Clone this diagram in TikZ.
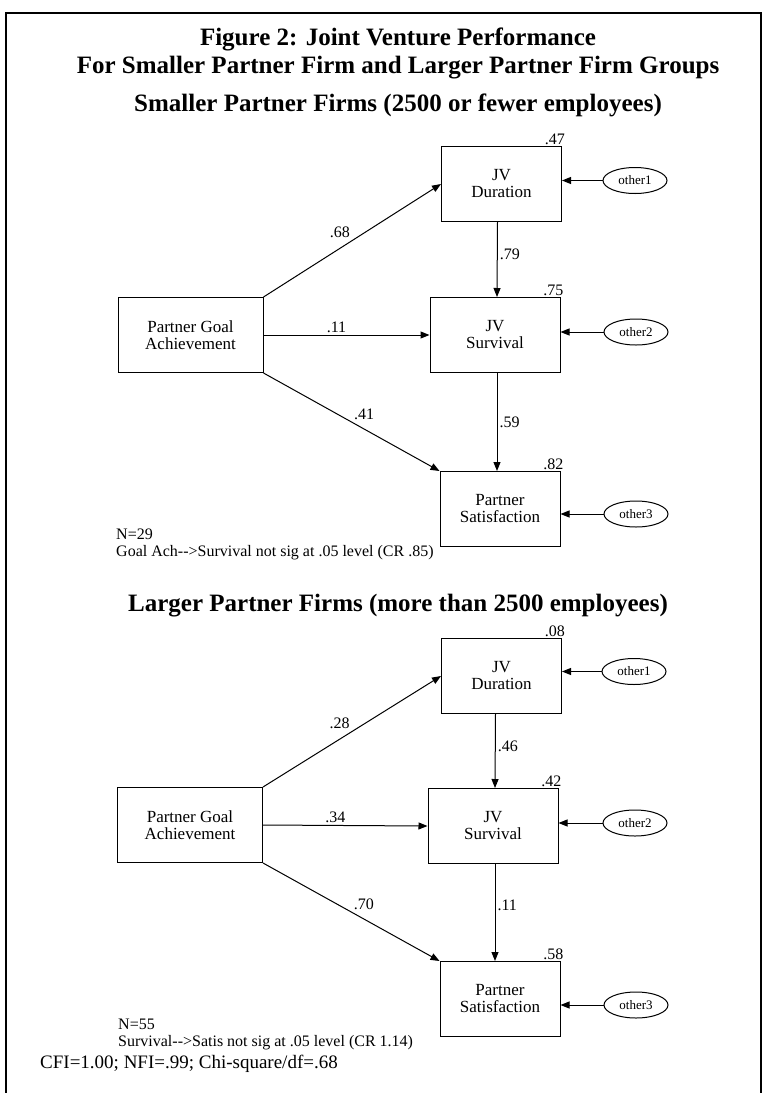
\documentclass[tikz,border=0pt]{standalone}
\usepackage{fontspec}
\setmainfont{Liberation Serif}
\usetikzlibrary{positioning,shapes.geometric,arrows.meta}

\tikzset{
  var/.style={draw, line width=1pt, minimum width=120pt, minimum height=75pt,
    align=center, inner sep=0pt, font=\fontsize{17}{17}\selectfont},
  other/.style={draw, ellipse, line width=1pt, minimum width=64pt, minimum height=26pt,
    inner sep=0pt, font=\fontsize{13}{13}\selectfont},
  coef/.style={font=\fontsize{16}{16}\selectfont, inner sep=2pt},
  rsq/.style={anchor=south east, inner sep=1pt, xshift=4pt, font=\fontsize{16}{16}\selectfont},
  head/.style={font=\fontsize{25}{25}\selectfont\bfseries},
  note/.style={align=left, inner sep=0pt, font=\fontsize{16}{17}\selectfont},
  path/.style={->, line width=1pt, >={Triangle[length=9pt,width=7pt]}}
}

\begin{document}
\begin{tikzpicture}[x=1pt,y=-1pt]
      \useasboundingbox (0,0) rectangle (767,1093);
      \draw[line width=2.5pt] (6,1093) -- (6,13) -- (761,13) -- (761,1093);

      \node[head] (title) at (398,39) {Figure 2: Joint Venture Performance};
      \node[head] (title2) at (398,68) {For Smaller Partner Firm and Larger Partner Firm Groups};

      % smaller partner firms
      \node[head] (small) at (398,105) {Smaller Partner Firms (2500 or fewer employees)};
      \node[var,minimum width=145pt] (goal1) at (190.5,335) {Partner Goal\\Achievement};
      \node[var] (dur1) at (501.5,184) {JV\\Duration};
      \node[var,minimum width=130pt] (surv1) at (495,335) {JV\\Survival};
      \node[var] (sat1) at (500,509) {Partner\\Satisfaction};
      \node[other] (e11) at (635,180.5) {other1};
      \node[other] (e12) at (636,332) {other2};
      \node[other] (e13) at (636,514) {other3};
      \node[rsq] (r11) at (dur1.north east) {.47};
      \node[rsq] (r12) at (surv1.north east) {.75};
      \node[rsq] (r13) at (sat1.north east) {.82};
      \path [path](goal1.north east) edge node[coef,above left] {.68} (dur1.west) ;
      \path [path](goal1.east) edge node[coef,pos=0.44,above] {.11} (surv1.west) ;
      \path [path](goal1.south east) edge node[coef,above right] {.41} (sat1.north west) ;
      \path [path]([xshift=-4pt]dur1.south) edge node[coef,pos=0.43,right] {.79} ([xshift=2pt]surv1.north) ;
      \path [path]([xshift=2pt]surv1.south) edge node[coef,pos=0.5,right] {.59} ([xshift=-3pt]sat1.north) ;
      \path [path](e11.west) edge (e11.west -| dur1.east) ;
      \path [path](e12.west) edge (e12.west -| surv1.east) ;
      \path [path](e13.west) edge (e13.west -| sat1.east) ;
      \node[note,anchor=north west] (n1) at (116,529) {N=29\\Goal Ach-{}->Survival not sig at .05 level (CR .85)};

      % larger partner firms
      \node[head] (large) at (398,606) {Larger Partner Firms (more than 2500 employees)};
      \node[var,minimum width=145pt] (goal2) at (190,825) {Partner Goal\\Achievement};
      \node[var] (dur2) at (501.5,676) {JV\\Duration};
      \node[var,minimum width=130pt] (surv2) at (493,826) {JV\\Survival};
      \node[var] (sat2) at (500,999) {Partner\\Satisfaction};
      \node[other] (e21) at (634,671.5) {other1};
      \node[other] (e22) at (635,823) {other2};
      \node[other] (e23) at (636,1005) {other3};
      \node[rsq] (r21) at (dur2.north east) {.08};
      \node[rsq] (r22) at (surv2.north east) {.42};
      \node[rsq] (r23) at (sat2.north east) {.58};
      \path [path](goal2.north east) edge node[coef,above left] {.28} (dur2.west) ;
      \path [path](goal2.east) edge node[coef,pos=0.44,above] {.34} (surv2.west) ;
      \path [path](goal2.south east) edge node[coef,above right] {.70} (sat2.north west) ;
      \path [path]([xshift=-6pt]dur2.south) edge node[coef,pos=0.43,right] {.46} ([xshift=2pt]surv2.north) ;
      \path [path]([xshift=2pt]surv2.south) edge node[coef,pos=0.43,right] {.11} ([xshift=-5pt]sat2.north) ;
      \path [path](e21.west) edge (e21.west -| dur2.east) ;
      \path [path](e22.west) edge (e22.west -| surv2.east) ;
      \path [path](e23.west) edge (e23.west -| sat2.east) ;
      \node[note,anchor=north west] (n2) at (118,1019) {N=55\\Survival-{}->Satis not sig at .05 level (CR 1.14)};
      \node[anchor=west,inner sep=0pt,font=\fontsize{19}{19}\selectfont] (fit) at (40,1064) {CFI=1.00; NFI=.99; Chi-square/df=.68};
    \end{tikzpicture}
\end{document}
